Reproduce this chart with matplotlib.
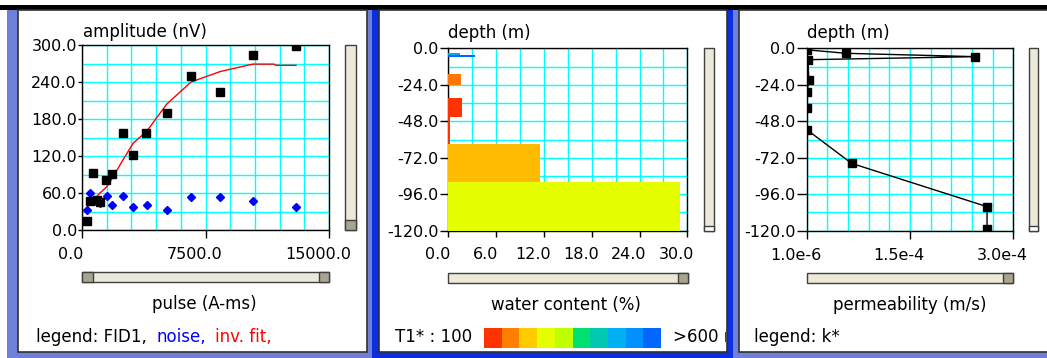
import numpy as np
import matplotlib
matplotlib.use("Agg")
import matplotlib.pyplot as plt
import matplotlib.transforms as mtransforms
from matplotlib.patches import Rectangle

# --- panel 1 : sounding curve ---
fid_pulse = [285, 486, 650, 890, 1093, 1457, 1842, 2470, 3117, 3887, 5142, 6620, 8400, 10360, 13000]
fid_amp = [15, 47, 93, 48, 45, 81, 91, 158, 122, 158, 190, 250, 223, 284, 298]
noise_pulse = [285, 486, 890, 1093, 1498, 1842, 2470, 3117, 3927, 5142, 6620, 8400, 10360, 13000]
noise_amp = [33, 60, 46, 43, 55, 40, 55, 38, 40, 33, 53, 53, 47, 38]
fit_pulse = [285, 486, 890, 1093, 1498, 1842, 2470, 3117, 3927, 5142, 6620, 8400, 10360, 11650, 11800, 13000]
fit_amp = [35, 43, 54, 60, 70, 84, 113, 141, 160, 204, 240, 257, 269, 269, 267, 267]
p1_xticks = [0, 7500, 15000]
p1_xlabels = ["0.0", "7500.0", "15000.0"]
p1_yticks = [0, 60, 120, 180, 240, 300]
p1_ylabels = ["0.0", "60.0", "120.0", "180.0", "240.0", "300.0"]

# --- panel 2 : water content layers ---
layer_top = [-3.0, -4.3, -17.1, -32.9, -45.4, -63.2, -87.7]
layer_bottom = [-4.3, -5.6, -24.1, -45.4, -63.2, -87.7, -120.0]
layer_water = [1.5, 3.4, 1.55, 1.7, 0.25, 11.5, 29.1]
layer_color = ["#00AAEE", "#0066FF", "#FF7700", "#FF3300", "#FF3300", "#FFBB00", "#E5FF00"]
t1_colors = ["#FF3300", "#FF8000", "#FFCC00", "#E6FF00", "#C0FF00",
             "#00E070", "#00C8B0", "#00B0F0", "#0090FF", "#0066FF"]
p2_xticks = [0, 6, 12, 18, 24, 30]
p2_xlabels = ["0.0", "6.0", "12.0", "18.0", "24.0", "30.0"]
depth_ticks = [-120, -96, -72, -48, -24, 0]
depth_labels = ["-120.0", "-96.0", "-72.0", "-48.0", "-24.0", "0.0"]

# --- panel 3 : permeability ---
perm_k = [1.5e-6, 5.8e-5, 2.45e-4, 3.0e-6, 4.0e-6, 1.5e-6, 1.5e-6, 1.0e-6, 6.6e-5, 2.62e-4, 2.62e-4]
perm_depth = [-1.0, -3.3, -5.5, -7.5, -21.0, -28.5, -39.0, -53.5, -75.7, -104.2, -119.0]
p3_xticks = [1e-6, 1.5e-4, 3e-4]
p3_xlabels = ["1.0e-6", "1.5e-4", "3.0e-4"]

W, H = 1047, 358
fig = plt.figure(figsize=(W / 100, H / 100), dpi=100)
fig.patch.set_facecolor("white")


def box(x0, y0, x1, y1):
    return [x0 / W, 1 - y1 / H, (x1 - x0) / W, (y1 - y0) / H]


def rect(x0, y0, x1, y1, fc, ec="none", lw=0.0, z=-1):
    fig.add_artist(Rectangle((x0 / W, 1 - y1 / H), (x1 - x0) / W, (y1 - y0) / H,
                             transform=fig.transFigure, facecolor=fc,
                             edgecolor=ec, linewidth=lw, zorder=z))


def ftext(x, y, s, **kw):
    kw.setdefault("fontsize", 12)
    kw.setdefault("va", "center")
    return fig.text(x / W, 1 - y / H, s, **kw)


# window frames
rect(7, 10, 1047, 358, "#6F80D8", z=-4)
rect(372, 10, 733, 358, "#0A2EE0", z=-3)
rect(0, 5, 1047, 10, "black", z=-2)
for x0, x1 in [(18, 367), (379, 727), (739, 1050)]:
    rect(x0, 10, x1, 352, "white", ec="#303030", lw=1.2, z=-1)

# scrollbars
beige, thumb, sedge = "#ECE9D8", "#A8A490", "#404040"
rect(345, 45, 356, 230, beige, sedge, 1.0, 1)
rect(345, 220, 356, 230, thumb, sedge, 1.0, 1)
rect(82, 272, 329, 282, beige, sedge, 1.0, 1)
rect(82, 272, 93, 282, thumb, sedge, 1.0, 1)
rect(319, 272, 329, 282, thumb, sedge, 1.0, 1)
rect(704, 48, 714, 231, beige, sedge, 1.0, 1)
rect(704, 226, 714, 231, "white", sedge, 1.0, 1)
rect(448, 273, 688, 283, beige, sedge, 1.0, 1)
rect(678, 273, 688, 283, thumb, sedge, 1.0, 1)
rect(1029, 48, 1038, 231, beige, sedge, 1.0, 1)
rect(1029, 226, 1038, 231, "white", sedge, 1.0, 1)
rect(807, 273, 1013, 283, beige, sedge, 1.0, 1)
rect(1003, 273, 1013, 283, thumb, sedge, 1.0, 1)

shift = mtransforms.ScaledTranslation(-0.11, 0, fig.dpi_scale_trans)


def style_axes(ax, xmaj, xlab, xmin_, ymaj, ylab, ymin_, ylen, ypad, xlen, xpad):
    ax.set_xticks(xmaj)
    ax.set_xticklabels(xlab)
    ax.set_yticks(ymaj)
    ax.set_yticklabels(ylab)
    ax.set_xticks(xmin_, minor=True)
    ax.set_yticks(ymin_, minor=True)
    ax.grid(True, which="both", color="#00FFFF", linewidth=1.0)
    ax.set_axisbelow(True)
    ax.tick_params(which="minor", length=0)
    ax.tick_params(axis="y", which="major", length=ylen * 0.72, pad=ypad * 0.72,
                   labelsize=11.5, width=1.0)
    ax.tick_params(axis="x", which="major", length=xlen * 0.72, pad=xpad * 0.72,
                   labelsize=11.5, width=1.0)
    for sp in ax.spines.values():
        sp.set_linewidth(1.0)
        sp.set_color("black")
    for lab in ax.get_xticklabels():
        lab.set_transform(lab.get_transform() + shift)


# panel 1
ax1 = fig.add_axes(box(82, 45, 329, 230))
ax1.plot(fit_pulse, fit_amp, color="red", linewidth=1.0, zorder=3)
ax1.plot(noise_pulse, noise_amp, "D", color="blue", markersize=4.5, zorder=4)
ax1.plot(fid_pulse, fid_amp, "s", color="black", markersize=6, zorder=5)
ax1.set_xlim(0, 15000)
ax1.set_ylim(0, 300)
style_axes(ax1, p1_xticks, p1_xlabels, np.linspace(0, 15000, 11),
           p1_yticks, p1_ylabels, np.arange(0, 301, 30), 4, 1, 8, 9)

# panel 2
ax2 = fig.add_axes(box(448.3, 48.3, 687.3, 230.7))
for top, bot, val, col in zip(layer_top, layer_bottom, layer_water, layer_color):
    ax2.barh((top + bot) / 2, val, height=top - bot, left=0, color=col,
             edgecolor="none", zorder=3)
ax2.set_xlim(0, 30)
ax2.set_ylim(-120, 0)
style_axes(ax2, p2_xticks, p2_xlabels, np.arange(0, 31, 3),
           depth_ticks, depth_labels, np.arange(-120, 1, 12), 8, 2, 6, 10)

# panel 3
ax3 = fig.add_axes(box(806.7, 48.3, 1013.3, 230.7))
ax3.plot(perm_k, perm_depth, "-s", color="black", linewidth=1.0,
         markersize=5.5, zorder=4)
ax3.set_xlim(1e-6, 3e-4)
ax3.set_ylim(-120, 0)
style_axes(ax3, p3_xticks, p3_xlabels, np.linspace(1e-6, 3e-4, 11),
           depth_ticks, depth_labels, np.arange(-120, 1, 12), 10, 1, 8, 9)

# T1* colour scale
axc = fig.add_axes(box(484, 328, 661, 348))
axc.bar(range(len(t1_colors)), 1, width=1.0, color=t1_colors)
axc.set_xlim(-0.5, len(t1_colors) - 0.5)
axc.set_ylim(0, 1)
axc.axis("off")

# texts
ftext(83, 32, "amplitude (nV)")
ftext(448, 33, "depth (m)")
ftext(807, 33, "depth (m)")
ftext(204, 304, "pulse (A-ms)", ha="center")
ftext(566, 305, "water content (%)", ha="center")
ftext(910, 305, "permeability (m/s)", ha="center")
ftext(36, 337, "legend: FID1,")
ftext(157, 337, "noise,", color="blue")
ftext(215, 337, "inv. fit,", color="red")
ftext(754, 337, "legend: k*")
ftext(395, 337, "T1* : 100")
t = ftext(673, 337, ">600 ms")
t.set_clip_on(True)
t.set_clip_box(mtransforms.TransformedBbox(
    mtransforms.Bbox([[380 / W, 0], [726 / W, 1]]), fig.transFigure))

fig.savefig("out.png", dpi=100)
